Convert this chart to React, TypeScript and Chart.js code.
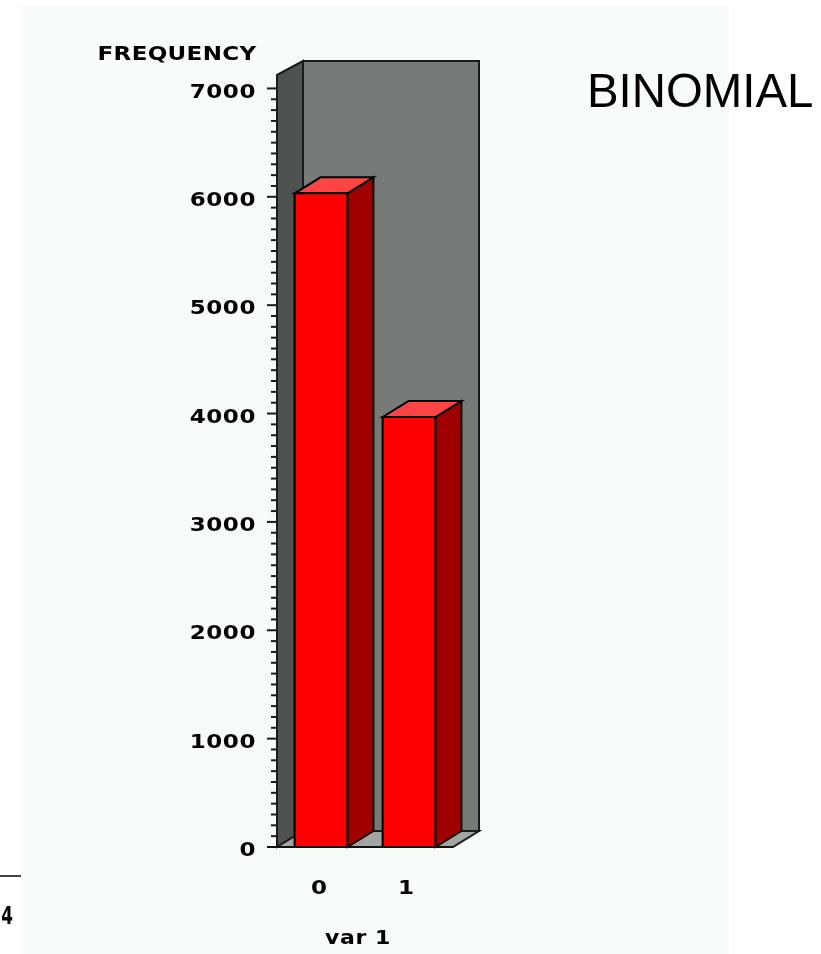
import React, { useEffect, useRef } from "react";
import { Chart, registerables } from "chart.js";

Chart.register(...registerables);

const categories = ["0", "1"];
const frequencies = [6032, 3968];
const yTopValue = 7124;
const yLabelStep = 1000;
const yMinorStep = 100;
const yLastTick = 7000;
const yAxisTitle = "FREQUENCY";
const xAxisTitle = "var 1";
const sideTitle = "BINOMIAL";

const DX = 26;
const DY = -16;
const TOP_DY = -14;
const PIXEL_FONT = '"DejaVu Sans"';

function poly(ctx: CanvasRenderingContext2D, pts: number[][], fill: string, stroke = "#1a1a1a", lw = 2) {
  ctx.beginPath();
  pts.forEach(([x, y], i) => (i ? ctx.lineTo(x, y) : ctx.moveTo(x, y)));
  ctx.closePath();
  ctx.fillStyle = fill;
  ctx.fill();
  ctx.lineWidth = lw;
  ctx.strokeStyle = stroke;
  ctx.stroke();
}

function wideText(
  ctx: CanvasRenderingContext2D,
  text: string,
  x: number,
  y: number,
  size: number,
  spacing: number,
  align: CanvasTextAlign = "center",
  stretch = 1
) {
  ctx.save();
  ctx.translate(x, y);
  ctx.scale(stretch, 1);
  ctx.font = `bold ${size}px ${PIXEL_FONT}`;
  (ctx as any).letterSpacing = `${spacing}px`;
  ctx.textAlign = align;
  ctx.textBaseline = "middle";
  ctx.fillStyle = "#000";
  ctx.fillText(text, 0, 0);
  ctx.restore();
}

const scene3d = {
  id: "scene3d",
  beforeDraw(chart: any) {
    const { ctx, width, height } = chart;
    ctx.save();
    ctx.fillStyle = "#ffffff";
    ctx.fillRect(0, 0, width, height);
    ctx.fillStyle = "#f7fcf9";
    ctx.fillRect(21, 6, 708, height - 6);
    ctx.restore();
  },
  beforeDatasetsDraw(chart: any) {
    const { ctx, chartArea: a } = chart;
    ctx.save();
    ctx.lineJoin = "miter";
    poly(ctx, [[a.left + DX, a.top + TOP_DY], [a.right + DX, a.top + TOP_DY], [a.right + DX, a.bottom + DY], [a.left + DX, a.bottom + DY]], "#767b77");
    poly(ctx, [[a.left, a.top], [a.left + DX, a.top + TOP_DY], [a.left + DX, a.bottom + DY], [a.left, a.bottom]], "#4f5350");
    poly(ctx, [[a.left, a.bottom], [a.right, a.bottom], [a.right + DX, a.bottom + DY], [a.left + DX, a.bottom + DY]], "#a3a5a3");
    ctx.restore();
  },
  afterDatasetsDraw(chart: any) {
    const { ctx, chartArea: a, scales } = chart;
    ctx.save();
    chart.getDatasetMeta(0).data.forEach((bar: any) => {
      const l = bar.x - bar.width / 2;
      const r = bar.x + bar.width / 2;
      const t = bar.y;
      const b = bar.base;
      poly(ctx, [[r, t], [r + DX, t + DY], [r + DX, b + DY], [r, b]], "#a00000", "#000", 2);
      poly(ctx, [[l, t], [l + DX, t + DY], [r + DX, t + DY], [r, t]], "#ff4444", "#000", 2);
      poly(ctx, [[l, t], [r, t], [r, b], [l, b]], "#ff0000", "#000", 2);
    });

    // y axis ticks and labels
    const y = scales.y;
    ctx.strokeStyle = "#1a1a1a";
    ctx.lineWidth = 2;
    y.ticks.forEach((tick: any) => {
      const py = y.getPixelForValue(tick.value);
      const major = tick.value % yLabelStep === 0;
      ctx.beginPath();
      ctx.moveTo(a.left - (major ? 10 : 6), py);
      ctx.lineTo(a.left, py);
      ctx.stroke();
      if (major) wideText(ctx, String(tick.value), 256, py + 4, 20, 0.5, "right", 1.15);
    });

    // baseline
    ctx.lineWidth = 2;
    ctx.strokeStyle = "#111";
    ctx.beginPath();
    ctx.moveTo(a.left - 10, a.bottom);
    ctx.lineTo(a.right, a.bottom);
    ctx.stroke();

    // x labels and titles
    const x = scales.x;
    categories.forEach((c, i) => wideText(ctx, c, x.getPixelForValue(i) - 2 - i, 889, 20, 0, "center", 1.15));
    wideText(ctx, xAxisTitle, 358, 939, 20, 0.5, "center", 1.1);
    wideText(ctx, yAxisTitle, 177, 55, 20, 0.3, "center", 1.15);

    // page fragments
    ctx.strokeStyle = "#444";
    ctx.lineWidth = 2;
    ctx.beginPath();
    ctx.moveTo(0, 876);
    ctx.lineTo(21, 876);
    ctx.stroke();
    wideText(ctx, "4", 7, 918, 24, 0, "center", 0.7);

    ctx.font = '47.4px "Liberation Sans"';
    ctx.textAlign = "left";
    ctx.textBaseline = "alphabetic";
    ctx.fillStyle = "#000";
    ctx.fillText(sideTitle, 587, 107);
    ctx.restore();
  },
};

export default function App() {
  const ref = useRef<HTMLCanvasElement>(null);
  useEffect(() => {
    const chart = new Chart(ref.current!, {
      type: "bar",
      data: {
        labels: categories,
        datasets: [
          {
            data: frequencies,
            backgroundColor: "#ff0000",
            borderColor: "#000",
            borderWidth: 0,
            barPercentage: 0.6,
            categoryPercentage: 1,
          },
        ],
      },
      plugins: [scene3d],
      options: {
        responsive: false,
        animation: false,
        layout: { padding: { left: 269, right: 368, top: 75, bottom: 99 } },
        plugins: { legend: { display: false }, tooltip: { enabled: false }, title: { display: false } },
        scales: {
          x: {
            grid: { display: false },
            border: { display: false },
            ticks: { display: false },
          },
          y: {
            min: 0,
            max: yTopValue,
            grid: { display: false },
            border: { display: false },
            ticks: { display: false, stepSize: yMinorStep, autoSkip: false },
            afterBuildTicks(scale: any) {
              scale.ticks = scale.ticks.filter((t: any) => t.value <= yLastTick);
            },
          },
        },
      },
    } as any);
    return () => chart.destroy();
  }, []);
  return (
    <canvas
      ref={ref}
      width={821}
      height={954}
      style={{ position: "absolute", left: 0, top: 0, width: 821, height: 954, display: "block" }}
    />
  );
}
